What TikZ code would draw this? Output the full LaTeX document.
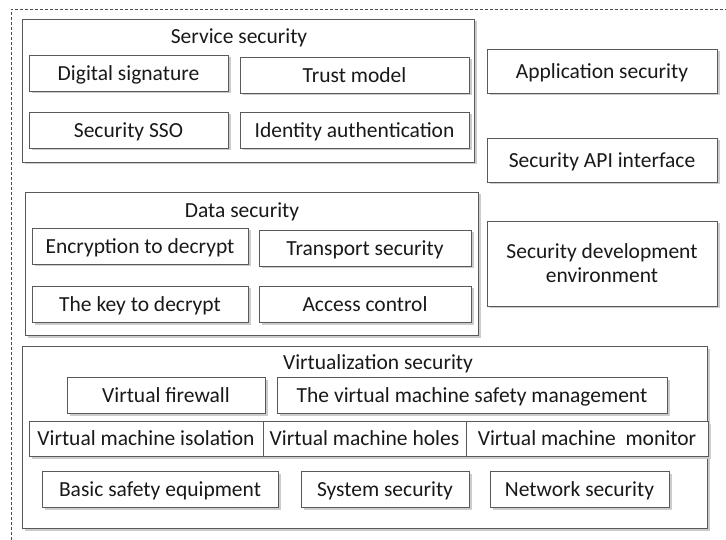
\documentclass[tikz,border=0pt]{standalone}
\usepackage{fontspec}
\setmainfont{Carlito}
\usetikzlibrary{shadows}
\def\secnode[#1](#2)(#3,#4)(#5,#6)#7{\node[#1,minimum width={(#5-#3)*1pt},minimum height={(#6-#4)*1pt}] (#2) at ({(#3+#5)/2},{(#4+#6)/2}) {#7};}
\tikzset{
  secbox/.style={draw=black!65, fill=white, line width=0.8pt, inner sep=0pt, align=center,
    text height=16pt, text depth=1.5pt,
    drop shadow={shadow xshift=2.5pt, shadow yshift=-2.5pt, fill=black!20, opacity=1}},
  twoline/.style={text height=, text depth=},
  grouptitle/.style={inner sep=0pt, anchor=center, text height=16pt, text depth=1.5pt},
}
\begin{document}
\begin{tikzpicture}[x=1pt, y=-1pt, font=\fontsize{21.5}{24}\selectfont, text=black!90]
		%%%%% FRAME %%%%%
		\useasboundingbox (0,0) rectangle (726,540);
		\coordinate (frameBL) at (11,540);
		\coordinate (frameTL) at (11,9);
		\coordinate (frameTR) at (726,9);
		\draw[black!70, line width=0.6pt, dash pattern=on 3pt off 2pt] (frameBL) -- (frameTL) -- (frameTR);
		
		%%%%% SERVICE %%%%%
		\secnode[secbox](service)(22,19)(474,162){}
		\node[grouptitle] (serviceT) at (239,36) {Service security};
		\secnode[secbox](digsig)(29,55)(228,91){Digital signature}
		\secnode[secbox](trust)(240,57)(469,93){Trust model}
		\secnode[secbox](sso)(29,112)(228,148){Security SSO}
		\secnode[secbox](ident)(240,112)(469,148){Identity authentication}
		
		%%%%% RIGHT COLUMN %%%%%
		\secnode[secbox](appsec)(487,49)(717,93){Application security}
		\secnode[secbox](api)(487,138)(717,182){Security API interface}
		\secnode[secbox,twoline](devenv)(487,221)(717,306){Security development\\environment}
		
		%%%%% DATA %%%%%
		\secnode[secbox](data)(25,192)(478,335){}
		\node[grouptitle] (dataT) at (242,210) {Data security};
		\secnode[secbox](encrypt)(32,228)(248,264){Encryption to decrypt}
		\secnode[secbox](transport)(259,230)(471,266){Transport security}
		\secnode[secbox](keydec)(32,286)(248,322){The key to decrypt}
		\secnode[secbox](access)(259,286)(471,322){Access control}
		
		%%%%% VIRTUALIZATION %%%%%
		\secnode[secbox](virt)(22,346)(707,528){}
		\node[grouptitle] (virtT) at (378,362) {Virtualization security};
		\secnode[secbox](firewall)(67,377)(265,413){Virtual firewall}
		\secnode[secbox](vmmgmt)(277,377)(667,413){The virtual machine safety management}
		\secnode[secbox](vmiso)(29,421)(263,456){Virtual machine isolation}
		\secnode[secbox](vmholes)(263,421)(466,456){Virtual machine holes}
		\secnode[secbox](vmmon)(466,421)(708,456){Virtual machine\ \ monitor}
		\secnode[secbox](basic)(42,471)(278,507){Basic safety equipment}
		\secnode[secbox](syssec)(301,471)(469,507){System security}
		\secnode[secbox](netsec)(490,471)(669,507){Network security}
		
		%%%%% END %%%%%
	\end{tikzpicture}
\end{document}
